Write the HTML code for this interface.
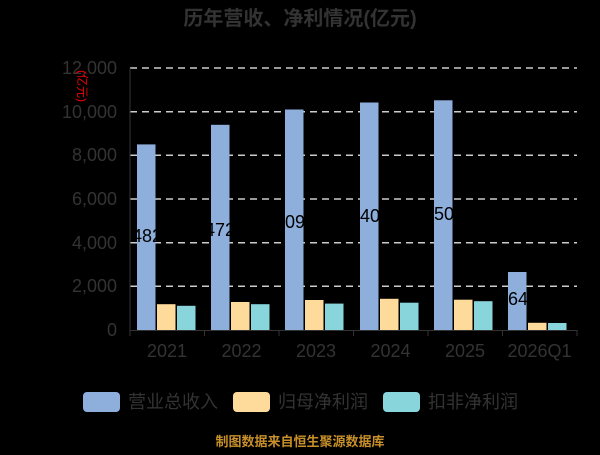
<!DOCTYPE html>
<html><head><meta charset="utf-8"><style>
body{margin:0;background:#000;width:600px;height:450px;overflow:hidden}
svg text{font-family:"Liberation Sans","Noto Sans CJK SC",sans-serif}
</style></head><body>
<svg width="600" height="450" viewBox="0 0 600 450">
<rect width="600" height="450" fill="#000"/>
<text x="300" y="25" text-anchor="middle" font-size="20" font-weight="bold" fill="#333">历年营收、净利情况(亿元)</text>
<g stroke="#ccc" stroke-width="1.5" stroke-dasharray="7,5">
<line x1="130" x2="577" y1="68" y2="68"/><line x1="130" x2="577" y1="111.7" y2="111.7"/>
<line x1="130" x2="577" y1="155.3" y2="155.3"/><line x1="130" x2="577" y1="199" y2="199"/>
<line x1="130" x2="577" y1="242.7" y2="242.7"/><line x1="130" x2="577" y1="286.3" y2="286.3"/>
</g>
<g font-size="18" fill="#333" text-anchor="end">
<text x="117" y="74">12,000</text><text x="117" y="118">10,000</text><text x="117" y="161">8,000</text>
<text x="117" y="205">6,000</text><text x="117" y="249">4,000</text><text x="117" y="292">2,000</text><text x="117" y="336">0</text>
</g>
<text transform="translate(78,86) rotate(90)" text-anchor="middle" font-size="12" fill="#e00">(亿元)</text>
<g>
<rect x="137" y="144.4" width="18.5" height="185.6" fill="#8eaedc"/>
<rect x="157" y="304.2" width="18.5" height="25.8" fill="#fedb9b"/>
<rect x="177" y="305.8" width="18.5" height="24.2" fill="#88d6db"/>
<rect x="211" y="124.8" width="18.5" height="205.2" fill="#8eaedc"/>
<rect x="231" y="302" width="18.5" height="28" fill="#fedb9b"/>
<rect x="251" y="304.2" width="18.5" height="25.8" fill="#88d6db"/>
<rect x="285" y="109.5" width="18.5" height="220.5" fill="#8eaedc"/>
<rect x="305" y="300" width="18.5" height="30" fill="#fedb9b"/>
<rect x="325" y="303.6" width="18.5" height="26.4" fill="#88d6db"/>
<rect x="360" y="102.5" width="18.5" height="227.5" fill="#8eaedc"/>
<rect x="380" y="298.8" width="18.5" height="31.2" fill="#fedb9b"/>
<rect x="400" y="302.7" width="18.5" height="27.3" fill="#88d6db"/>
<rect x="434" y="100.3" width="18.5" height="229.7" fill="#8eaedc"/>
<rect x="454" y="299.7" width="18.5" height="30.3" fill="#fedb9b"/>
<rect x="474" y="301.2" width="18.5" height="28.8" fill="#88d6db"/>
<rect x="508" y="272" width="18.5" height="58" fill="#8eaedc"/>
<rect x="528" y="322.8" width="18.5" height="7.2" fill="#fedb9b"/>
<rect x="548" y="323" width="18.5" height="7" fill="#88d6db"/>
</g>
<g font-size="18" fill="#000" text-anchor="middle">
<text x="142" y="242">8482</text><text x="215" y="236">9472</text><text x="290" y="228">10093</text>
<text x="365" y="222">10407</text><text x="439" y="220">10501</text><text x="518" y="305">2648</text>
</g>
<line x1="130" x2="130" y1="68" y2="331" stroke="#333"/>
<line x1="130" x2="577" y1="330.5" y2="330.5" stroke="#333"/>
<g stroke="#333"><line x1="130" x2="130" y1="330" y2="336"/><line x1="204.5" x2="204.5" y1="330" y2="336"/><line x1="279" x2="279" y1="330" y2="336"/><line x1="353.5" x2="353.5" y1="330" y2="336"/><line x1="428" x2="428" y1="330" y2="336"/><line x1="502.5" x2="502.5" y1="330" y2="336"/><line x1="577" x2="577" y1="330" y2="336"/></g>
<g font-size="18" fill="#333" text-anchor="middle">
<text x="167" y="357">2021</text><text x="241.5" y="357">2022</text><text x="316" y="357">2023</text>
<text x="390.5" y="357">2024</text><text x="465" y="357">2025</text><text x="539.5" y="357">2026Q1</text>
</g>
<rect x="83" y="392" width="37" height="20" rx="4" fill="#8eaedc"/>
<text x="128" y="408" font-size="18" fill="#333">营业总收入</text>
<rect x="233" y="392" width="37" height="20" rx="4" fill="#fedb9b"/>
<text x="278" y="408" font-size="18" fill="#333">归母净利润</text>
<rect x="383" y="392" width="37" height="20" rx="4" fill="#88d6db"/>
<text x="428" y="408" font-size="18" fill="#333">扣非净利润</text>
<text x="300" y="446" text-anchor="middle" font-size="13" font-weight="bold" fill="#c8902a">制图数据来自恒生聚源数据库</text>
</svg>
</body></html>
